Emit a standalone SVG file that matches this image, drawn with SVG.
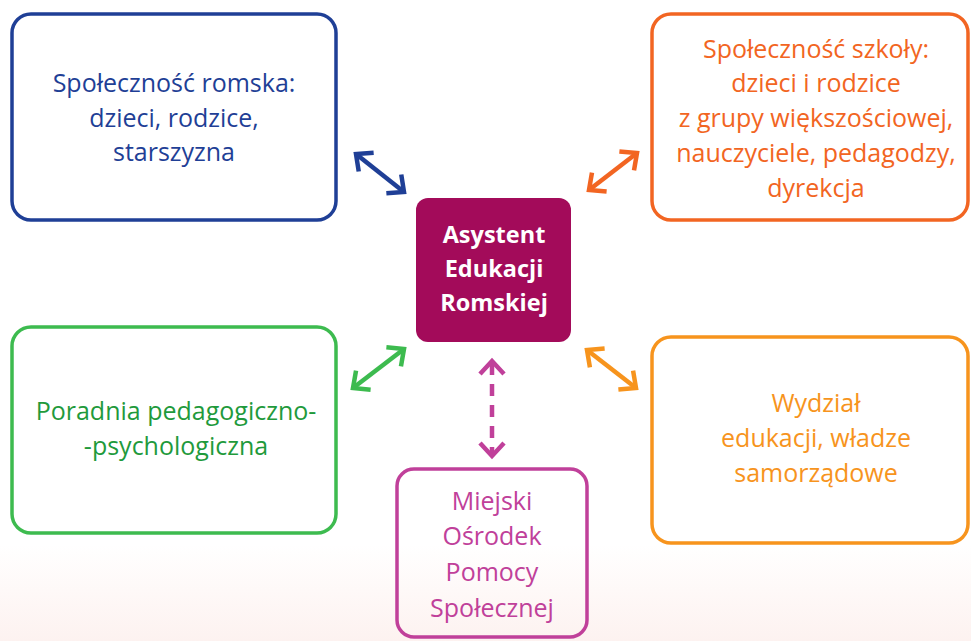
<svg xmlns="http://www.w3.org/2000/svg" width="971" height="641" viewBox="0 0 971 641">
<defs>
<linearGradient id="bg" x1="0" y1="0" x2="0" y2="1">
<stop offset="0" stop-color="#ffffff"/>
<stop offset="0.85" stop-color="#ffffff"/>
<stop offset="1" stop-color="#fdf2f0"/>
</linearGradient>
<marker id="mb" markerUnits="userSpaceOnUse" viewBox="-18 -14 22 28" markerWidth="22" markerHeight="28" refX="0" refY="0" orient="auto-start-reverse"><path d="M-13,-12 L0,0 L-13,12" fill="none" stroke="#1f3f96" stroke-width="4.5"/></marker>
<marker id="mr" markerUnits="userSpaceOnUse" viewBox="-18 -14 22 28" markerWidth="22" markerHeight="28" refX="0" refY="0" orient="auto-start-reverse"><path d="M-13,-12 L0,0 L-13,12" fill="none" stroke="#f26522" stroke-width="4.5"/></marker>
<marker id="mg" markerUnits="userSpaceOnUse" viewBox="-18 -14 22 28" markerWidth="22" markerHeight="28" refX="0" refY="0" orient="auto-start-reverse"><path d="M-13,-12 L0,0 L-13,12" fill="none" stroke="#3dbb4f" stroke-width="4.5"/></marker>
<marker id="mo" markerUnits="userSpaceOnUse" viewBox="-18 -14 22 28" markerWidth="22" markerHeight="28" refX="0" refY="0" orient="auto-start-reverse"><path d="M-13,-12 L0,0 L-13,12" fill="none" stroke="#f7941d" stroke-width="4.5"/></marker>
<marker id="mm" markerUnits="userSpaceOnUse" viewBox="-18 -14 22 28" markerWidth="22" markerHeight="28" refX="0" refY="0" orient="auto-start-reverse"><path d="M-13,-12 L0,0 L-13,12" fill="none" stroke="#c0409a" stroke-width="4.5"/></marker>
</defs>
<style>
.box{fill:none;stroke-width:3.5}
.t{font-family:"Open Sans","Noto Sans","Liberation Sans",sans-serif;font-size:25px;text-anchor:middle}
.c{font-family:"Open Sans","Noto Sans","Liberation Sans",sans-serif;font-size:23.5px;font-weight:bold;fill:#ffffff;text-anchor:middle}
.a{fill:none;stroke-width:4.5}
</style>
<rect x="0" y="0" width="971" height="641" fill="url(#bg)"/>
<g id="connectors">
<line class="a" x1="356" y1="154" x2="404" y2="192" stroke="#1f3f96" marker-start="url(#mb)" marker-end="url(#mb)"/>
<line class="a" x1="589" y1="190" x2="637" y2="153" stroke="#f26522" marker-start="url(#mr)" marker-end="url(#mr)"/>
<line class="a" x1="353" y1="388" x2="404" y2="349" stroke="#3dbb4f" marker-start="url(#mg)" marker-end="url(#mg)"/>
<line class="a" x1="587" y1="350" x2="636" y2="388" stroke="#f7941d" marker-start="url(#mo)" marker-end="url(#mo)"/>
<line class="a" x1="492" y1="361" x2="492" y2="456" stroke="#c0409a" stroke-dasharray="12 9" stroke-dashoffset="-2" marker-start="url(#mm)" marker-end="url(#mm)"/>
</g>
<g id="romska">
<rect class="box" x="12" y="14" width="324" height="206" rx="19" stroke="#1f3f96"/>
<text class="t" fill="#1f3f96"><tspan x="174" y="92">Społeczność romska:</tspan><tspan x="174" y="127">dzieci, rodzice,</tspan><tspan x="174" y="161">starszyzna</tspan></text>
</g>
<g id="szkola">
<rect class="box" x="652" y="14" width="316" height="206" rx="19" stroke="#f26522"/>
<text class="t" fill="#f26522"><tspan x="816" y="58">Społeczność szkoły:</tspan><tspan x="816" y="92">dzieci i rodzice</tspan><tspan x="816" y="127">z grupy większościowej,</tspan><tspan x="816" y="162">nauczyciele, pedagodzy,</tspan><tspan x="816" y="197">dyrekcja</tspan></text>
</g>
<g id="asystent">
<rect x="416" y="198" width="155" height="144" rx="12" fill="#a30b5a"/>
<text class="c"><tspan x="494" y="243">Asystent</tspan><tspan x="494" y="277">Edukacji</tspan><tspan x="494" y="311">Romskiej</tspan></text>
</g>
<g id="poradnia">
<rect class="box" x="12" y="327" width="324" height="206" rx="19" stroke="#3dbb4f"/>
<text class="t" fill="#1f9a3c"><tspan x="176" y="420">Poradnia pedagogiczno-</tspan><tspan x="176" y="455">-psychologiczna</tspan></text>
</g>
<g id="wydzial">
<rect class="box" x="652" y="337" width="316" height="206" rx="19" stroke="#f7941d"/>
<text class="t" fill="#f7941d"><tspan x="816" y="412">Wydział</tspan><tspan x="816" y="447">edukacji, władze</tspan><tspan x="816" y="482">samorządowe</tspan></text>
</g>
<g id="mops">
<rect class="box" x="397" y="469" width="190" height="168" rx="17" stroke="#c0409a"/>
<text class="t" fill="#c0409a"><tspan x="492" y="510">Miejski</tspan><tspan x="492" y="545">Ośrodek</tspan><tspan x="492" y="581">Pomocy</tspan><tspan x="492" y="617">Społecznej</tspan></text>
</g>
</svg>
